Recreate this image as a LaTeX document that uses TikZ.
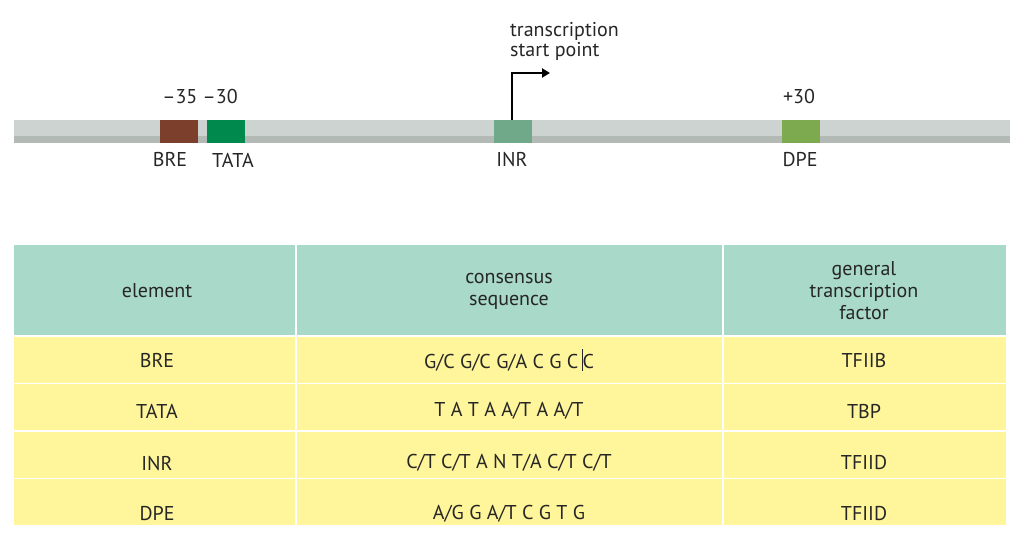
\documentclass[tikz,border=0pt]{standalone}
\usepackage{fontspec}
\setmainfont{PT Sans}
\usetikzlibrary{arrows.meta,positioning}
\definecolor{barlight}{HTML}{CDD3D0}
\definecolor{bardark}{HTML}{B3BAB6}
\definecolor{brebox}{HTML}{7B3F2B}
\definecolor{tatabox}{HTML}{00894C}
\definecolor{inrbox}{HTML}{6FA98A}
\definecolor{dpebox}{HTML}{7DAA4E}
\definecolor{headfill}{HTML}{A9D9C9}
\definecolor{rowfill}{HTML}{FFF59A}
\tikzset{
  lbl/.style={font=\fontsize{20}{22}\selectfont,text=black!85,inner sep=0pt},
  cell/.style={lbl,align=center},
  elem/.style={draw=none,minimum width=38pt,minimum height=23pt,inner sep=0pt}
}
\begin{document}
\begin{tikzpicture}[x=1pt,y=-1pt]
    \useasboundingbox (0,0) rectangle (1024,556);
    % DNA bar
    \fill[barlight] (14,120) rectangle (1010,143);
    \fill[bardark] (14,136) rectangle (1010,143);
    % Promoter elements
    \node[elem,fill=brebox] (bre) at (179,131.5) {};
    \node[elem,fill=tatabox] (tata) at (225.5,131.5) {};
    \node[elem,fill=inrbox] (inr) at (512.5,131.5) {};
    \node[elem,fill=dpebox] (dpe) at (801,131.5) {};
    \node[lbl] at (170,160) {BRE};
    \node[lbl] at (233,160) {TATA};
    \node[lbl] at (512,160) {INR};
    \node[lbl] at (800,160) {DPE};
    \node[lbl] at (200,97) {–35 –30};
    \node[lbl] at (799,97) {+30};
    % Start point arrow
    \coordinate (bend) at (512,73);
    \coordinate (tip) at (550,73);
    \draw[line width=2.5pt,-{Triangle[length=8pt,width=9pt]}] (inr.north-|bend) -- (bend) -- (tip);
    \node[lbl,align=left,anchor=west] (tsp) at (510,41) {transcription\\[-2pt]start point};
    % Table
    \fill[headfill] (14,245) rectangle (1006,335);
    \foreach \y in {337,384,432,479} {
        \fill[rowfill] (14,\y) rectangle (1006,\y+46);
    }
    \draw[white,line width=1.5pt] (296,245) -- (296,526) (723,245) -- (723,526);
    \node[cell] at (157,291) {element};
    \node[cell] at (509,291) {consensus\\sequence};
    \node[cell] at (864,291) {general\\transcription\\factor};
    \node[cell] at (157,360) {BRE};
    \node[cell] at (509,360) {G/C G/C G/A C G C\,\rule[-3pt]{0.8pt}{22pt}C};
    \node[cell] at (864,360) {TFIIB};
    \node[cell] at (157,411) {TATA};
    \node[cell] at (509,411) {T A T A A/T A A/T};
    \node[cell] at (864,411) {TBP};
    \node[cell] at (157,463) {INR};
    \node[cell] at (509,463) {C/T C/T A N T/A C/T C/T};
    \node[cell] at (864,463) {TFIID};
    \node[cell] at (157,514) {DPE};
    \node[cell] at (509,514) {A/G G A/T C G T G};
    \node[cell] at (864,514) {TFIID};
\end{tikzpicture}
\end{document}
